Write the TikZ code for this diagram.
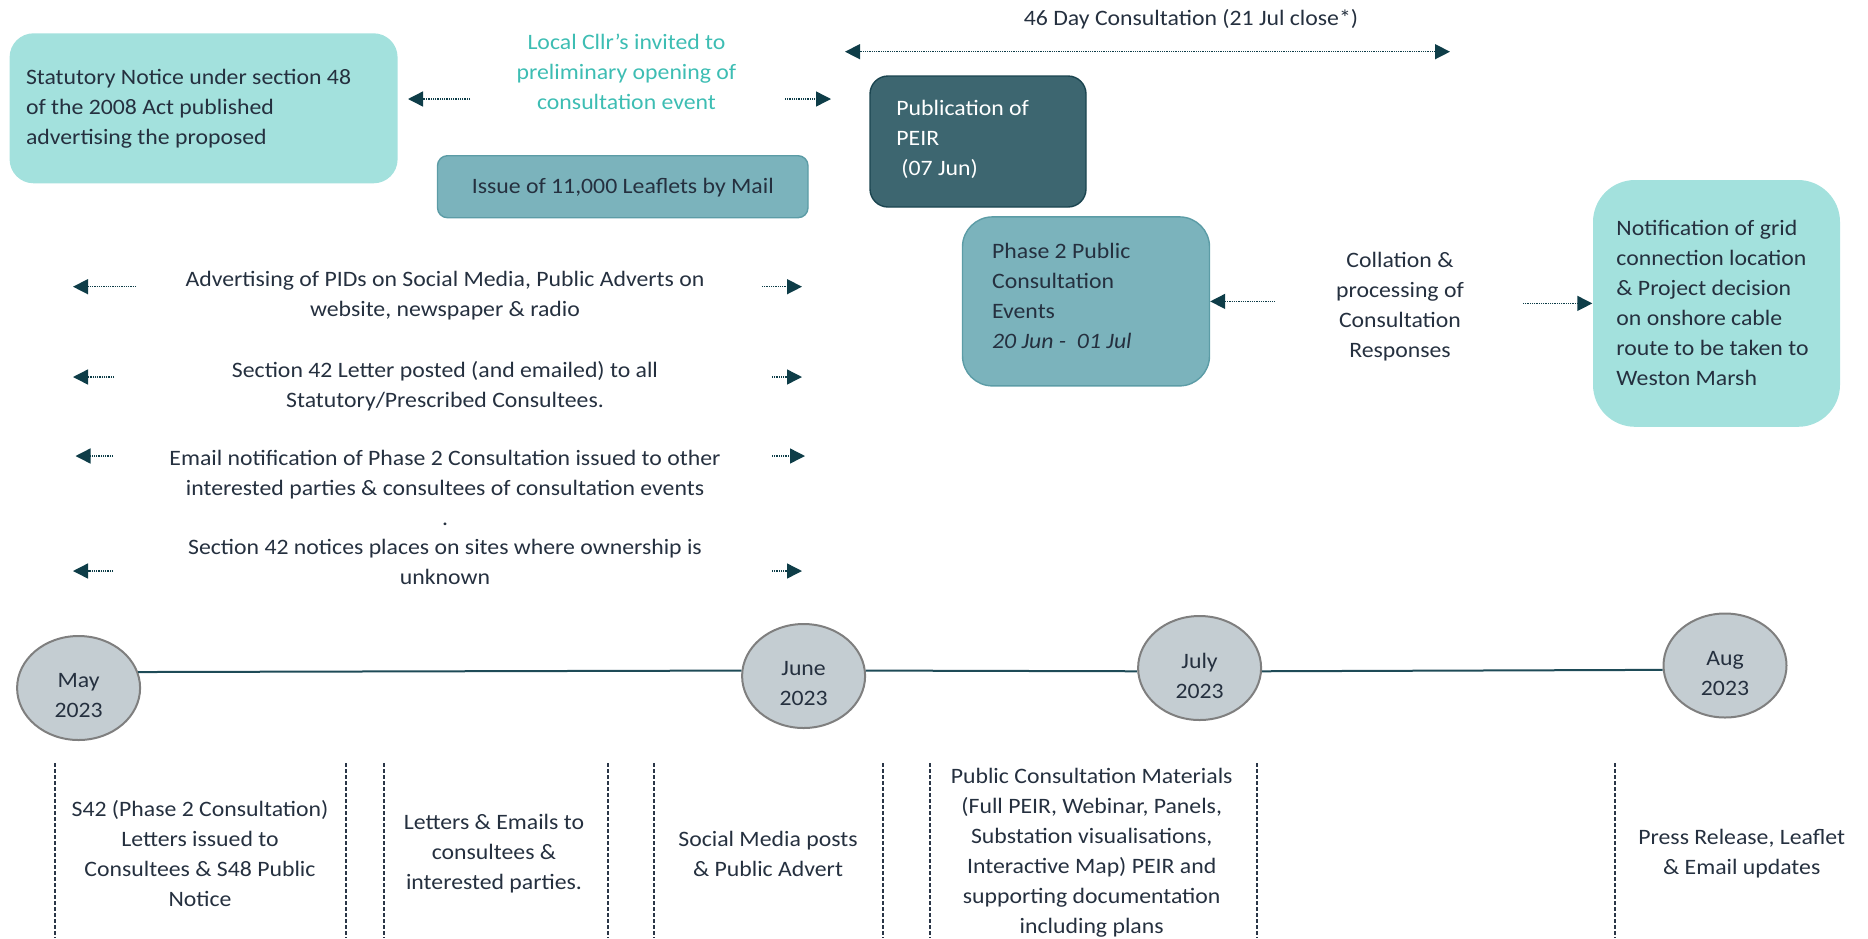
\documentclass[tikz,border=0pt]{standalone}
\usepackage{fontspec}
\setmainfont[FakeStretch=1.08]{Carlito}
\usetikzlibrary{arrows.meta,shapes.geometric}
\definecolor{ink}{HTML}{25303F}
\definecolor{lteal}{HTML}{A3E1DD}
\definecolor{mteal}{HTML}{7BB3BC}
\definecolor{mtealb}{HTML}{5C9CA6}
\definecolor{dteal}{HTML}{3D6670}
\definecolor{dtealb}{HTML}{1B4550}
\definecolor{arrowc}{HTML}{0E3D48}
\definecolor{cllrc}{HTML}{3DBDB3}
\definecolor{circf}{HTML}{C4CDD2}
\definecolor{circb}{HTML}{7F7F7F}
\definecolor{tline}{HTML}{1E4B57}
\definecolor{dashc}{HTML}{2A3647}
\tikzset{
  txt/.style={font=\fontsize{11}{15}\selectfont, text=ink, align=center, inner sep=0pt},
  ltxt/.style={txt, align=left, anchor=west},
  boxshape/.style={inner sep=0pt, line width=0.7pt},
  conn/.style={draw=arrowc, line width=0.7pt, dash pattern=on 0.5pt off 0.4pt, -{Triangle[length=7.5pt,width=7.5pt]}},
  month/.style={ellipse, draw=circb, line width=1pt, fill=circf, minimum width=61.5pt, minimum height=52pt, inner sep=0pt},
  sep/.style={draw=dashc, line width=0.8pt, dash pattern=on 2pt off 1pt},
}
\begin{document}
\begin{tikzpicture}[x=0.5pt,y=-0.5pt]
\useasboundingbox (0,0) rectangle (1868,938);

% boxes
\node[boxshape, fill=lteal, rounded corners=12pt, minimum width=194pt, minimum height=75pt] (stat) at (203.6,108.3) {};
\node[ltxt] (statT) at (25.6,109) {Statutory Notice under section 48\\of the 2008 Act published\\advertising the proposed};

\node[boxshape, draw=mtealb, fill=mteal, rounded corners=5pt, minimum width=185.25pt, minimum height=31pt] (issue) at (622.75,186.7) {};
\node[txt] (issueT) at (622.75,187.5) {Issue of 11,000 Leaflets by Mail};

\node[boxshape, draw=dtealb, fill=dteal, rounded corners=9pt, minimum width=108pt, minimum height=65.5pt] (pub) at (978,141.5) {};
\node[ltxt, text=white] (pubT) at (896,139) {Publication of\\PEIR\\\hspace*{0.23em}(07 Jun)};

\node[boxshape, draw=mtealb, fill=mteal, rounded corners=15pt, minimum width=123.5pt, minimum height=84.5pt] (p2) at (1086,301.4) {};
\node[ltxt] (p2T) at (991.7,295.5) {Phase 2 Public\\Consultation\\Events\\\textit{20 Jun -\ \ 01 Jul}};

\node[boxshape, fill=lteal, rounded corners=21pt, minimum width=123.5pt, minimum height=123.4pt] (notif) at (1716.5,303.4) {};
\node[ltxt] (notifT) at (1616,302.5) {Notification of grid\\connection location\\\& Project decision\\on onshore cable\\route to be taken to\\Weston Marsh};

% free texts
\node[txt, text=cllrc] (cllr) at (626.5,72) {Local Cllr’s invited to\\preliminary opening of\\consultation event};
\node[txt] (day46) at (1191,19) {46 Day Consultation (21 Jul close*)};
\node[txt] (coll) at (1400,307) {Collation \&\\processing of\\Consultation\\Responses};

\node[txt] (r1) at (445,296) {Advertising of PIDs on Social Media, Public Adverts on\\website, newspaper \& radio};
\node[txt] (r2) at (445,386) {Section 42 Letter posted (and emailed) to all\\Statutory/Prescribed Consultees.};
\node[txt] (r3) at (445,488) {Email notification of Phase 2 Consultation issued to other\\interested parties \& consultees of consultation events\\.};
\node[txt] (r4) at (445,561.5) {Section 42 notices places on sites where ownership is\\unknown};

% connector end points
\coordinate (clL0) at (470,99);   \coordinate (clL1) at (408,99);
\coordinate (clR0) at (785,99);   \coordinate (clR1) at (831,99);
\coordinate (dL) at (845,51.7);   \coordinate (dR) at (1450,51.7);
\coordinate (coL) at (1274.5,301.4);
\coordinate (coR) at (1523,303.4);
\coordinate (a1L0) at (136,286.7); \coordinate (a1L1) at (73,286.7);
\coordinate (a1R0) at (762,286.7); \coordinate (a1R1) at (802,286.7);
\coordinate (a2L0) at (114,377);   \coordinate (a2L1) at (73,377);
\coordinate (a2R0) at (772,377);   \coordinate (a2R1) at (802,377);
\coordinate (a3L0) at (113,456);   \coordinate (a3L1) at (75.5,456);
\coordinate (a3R0) at (772,456);   \coordinate (a3R1) at (805,456);
\coordinate (a4L0) at (113,571);   \coordinate (a4L1) at (73,571);
\coordinate (a4R0) at (772,571);   \coordinate (a4R1) at (802,571);

\draw[conn] (clL0) -- (clL1);
\draw[conn] (clR0) -- (clR1);
\draw[conn, {Triangle[length=7.5pt,width=7.5pt]}-{Triangle[length=7.5pt,width=7.5pt]}] (dL) -- (dR);
\draw[conn] (coL) -- (p2.east);
\draw[conn] (coR) -- (notif.west);
\draw[conn] (a1L0) -- (a1L1); \draw[conn] (a1R0) -- (a1R1);
\draw[conn] (a2L0) -- (a2L1); \draw[conn] (a2R0) -- (a2R1);
\draw[conn] (a3L0) -- (a3L1); \draw[conn] (a3R0) -- (a3R1);
\draw[conn] (a4L0) -- (a4L1); \draw[conn] (a4R0) -- (a4R1);

% timeline
\node[month] (may) at (78.6,688) {};
\node[month] (jun) at (803.6,676) {};
\node[month] (jul) at (1199.6,668) {};
\node[month] (aug) at (1725,665.5) {};
\node[txt] (mayT) at (78.6,696) {May\\2023};
\node[txt] (junT) at (803.6,684) {June\\2023};
\node[txt] (julT) at (1199.6,676) {July\\2023};
\node[txt] (augT) at (1725,673.5) {Aug\\2023};
\draw[tline, line width=1pt] (may.15) -- (jun.175);
\draw[tline, line width=1pt] (jun.5) -- (jul.183);
\draw[tline, line width=1pt] (jul.357) -- (aug.184);

% separators
\foreach \xx in {55,346,384,608,654,883,930,1257,1615}
  \draw[sep] (\xx,763) -- (\xx,938);

% bottom texts
\node[txt] (b1) at (200,853.5) {S42 (Phase 2 Consultation)\\Letters issued to\\Consultees \& S48 Public\\Notice};
\node[txt] (b2) at (494,854) {Letters \& Emails to\\consultees \&\\interested parties.};
\node[txt] (b3) at (768,853.5) {Social Media posts\\\& Public Advert};
\node[txt] (b4) at (1091.7,853) {Public Consultation Materials\\(Full PEIR, Webinar, Panels,\\Substation visualisations,\\Interactive Map) PEIR and\\supporting documentation\\including plans};
\node[txt] (b5) at (1741.7,853.5) {Press Release, Leaflet\\\& Email updates};
\end{tikzpicture}
\end{document}
